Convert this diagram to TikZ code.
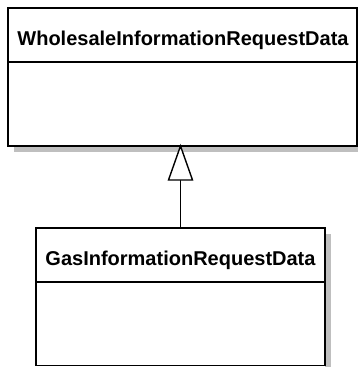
\documentclass[tikz,border=0pt]{standalone}
\usepackage{fontspec}
\setmainfont{Liberation Sans}
\begin{document}
\begin{tikzpicture}[x=1pt,y=-1pt,
  boxline/.style={draw=black,line width=1.6pt,fill=white},
  shadowfill/.style={fill=black!25,draw=none},
  title/.style={font=\fontsize{20}{24}\selectfont\bfseries,inner sep=0pt,anchor=base},
  gen/.style={line width=1.4pt}]
\useasboundingbox (0,0) rectangle (358,367);
% top class
\fill[shadowfill] (14,146) rectangle (358,152);
\fill[shadowfill] (357,14) rectangle (358,152);
\draw[boxline] (8,8) rectangle (357,146);
\draw[line width=1.6pt] (8,62) -- (357,62);
\node[title] (wt) at (183,45) {WholesaleInformationRequestData};
\coordinate (topb) at (180.5,146);
% bottom class
\fill[shadowfill] (325,234) rectangle (331,367);
\draw[boxline] (36,228) rectangle (325,365.5);
\draw[line width=1.6pt] (36,282) -- (325,282);
\node[title] (gt) at (180.5,265) {GasInformationRequestData};
\coordinate (botb) at (180.5,228);
% generalization
\coordinate (tb) at (180.5,180);
\draw[gen] (botb) -- (tb);
\draw[gen,fill=white] (topb) -- (168.5,180) -- (192.5,180) -- cycle;
\end{tikzpicture}
\end{document}
